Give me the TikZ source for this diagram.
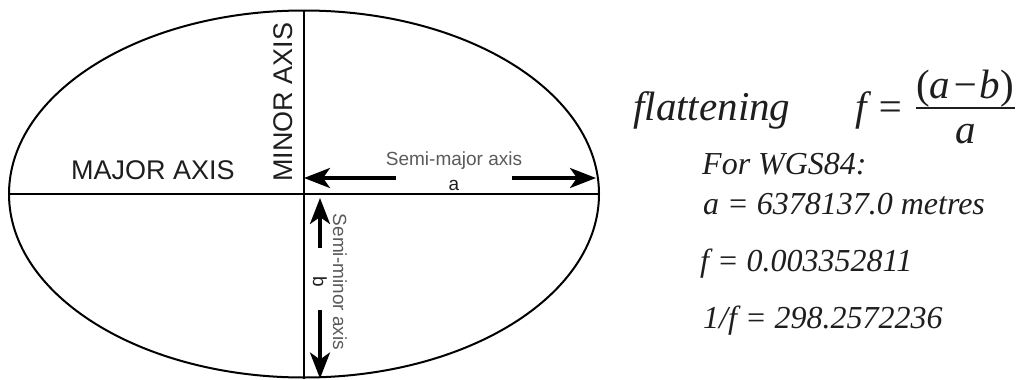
\documentclass[tikz,border=0pt]{standalone}
\usepackage{fontspec}
\setmainfont{Liberation Serif}
\setsansfont{Liberation Sans}
\usetikzlibrary{shapes.geometric, arrows.meta, positioning}
\definecolor{inkgray}{HTML}{1E1E1E}
\definecolor{labelgray}{HTML}{5A5A5A}
\tikzset{
    earth/.style={ellipse, draw=black, line width=2pt, minimum width=590pt, minimum height=367pt, inner sep=0pt},
    axis/.style={draw=black, line width=2pt},
    bigcaps/.style={font=\sffamily\fontsize{27}{30}\selectfont, text=inkgray, inner sep=0pt},
    smalllabel/.style={font=\sffamily\fontsize{19}{21}\selectfont, text=labelgray, inner sep=0pt},
    formula/.style={font=\fontsize{32}{36}\selectfont\itshape, text=inkgray, anchor=base west, inner sep=0pt},
    bigformula/.style={formula, font=\fontsize{41}{46}\selectfont\itshape},
    arrow/.style={line width=3.5pt, -{Stealth[length=26pt, width=20pt, inset=7pt]}}
}

\begin{document}
\begin{tikzpicture}[x=1pt, y=-1pt]
    \useasboundingbox (0,0) rectangle (1017,380);
    % ellipse and its two axes
    \node (ell) [earth] at (304,194) {};
    \draw [axis] (ell.west) -- (ell.east);
    \draw [axis] (ell.north) -- (ell.south);

    \node (major) [bigcaps] at (153,170) {MAJOR AXIS};
    \node (minor) [bigcaps, rotate=90] at (283,102) {MINOR AXIS};
    \node (semimajor) [smalllabel] at (454,161) {Semi-major axis};
    \node (a) [smalllabel, text=inkgray] at (454,185) {a};
    \node (semiminor) [smalllabel, rotate=-90] at (340,282) {Semi-minor axis};
    \node (b) [smalllabel, rotate=-90, text=inkgray] at (320,282) {b};

    % dimension arrows
    \coordinate (aleft) at (396,178);
    \coordinate (aright) at (512,178);
    \coordinate (bup) at (320,248);
    \coordinate (bdown) at (320,310);
    \draw [arrow] (aleft) -- (aleft -| ell.center);
    \draw [arrow, shorten >=4pt] (aright) -- (aright -| ell.east);
    \draw [arrow, shorten >=4pt] (bup) -- (bup |- ell.center);
    \draw [arrow] (bdown) -- (bdown |- ell.south);

    % flattening and WGS84 values
    \node (flat) [bigformula] at (633,120) {flattening};
    \node (feq) [bigformula] at (855,120) {f =};
    \node (num) [bigformula, anchor=base] at (965,98) {\textup{(}a\kern1pt−\kern1pt b\textup{)}};
    \node (den) [bigformula, anchor=base] at (966,143) {a};
    \coordinate (barl) at (916,108);
    \coordinate (barr) at (1015,108);
    \draw [inkgray, line width=1.5pt] (barl) -- (barr);
    \node (wgs) [formula] at (702,174) {For WGS84:};
    \node (semia) [formula] at (703,214) {a = 6378137.0 metres};
    \node (flatval) [formula] at (700,271) {f = 0.003352811};
    \node (invf) [formula] at (703,328) {1/f = 298.2572236};
\end{tikzpicture}
\end{document}
